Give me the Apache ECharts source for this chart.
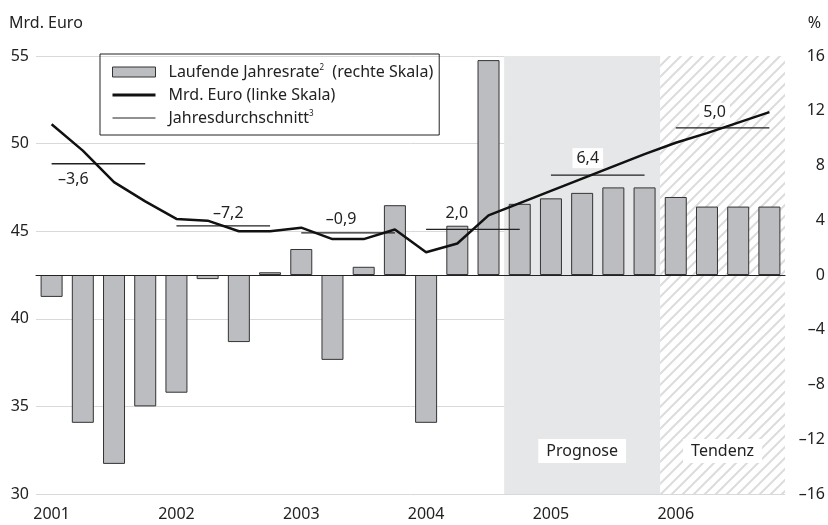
<!DOCTYPE html>
<html>
<head>
<meta charset="utf-8">
<title>Mrd. Euro</title>
<script src="https://cdn.jsdelivr.net/npm/echarts@6/dist/echarts.min.js"></script>
</head>
<body style="margin:0">
<div id="chart" style="width:828px;height:525px;"></div>
<script>
// Quartale 2001 bis 2006
var years = ['2001', '2002', '2003', '2004', '2005', '2006'];
var quarters = ['Q1', 'Q2', 'Q3', 'Q4'];
// Laufende Jahresrate in % (rechte Skala)
var rate = [-1.6, -10.8, -13.8, -9.6,
            -8.6, -0.3, -4.9, 0.2,
            1.9, -6.2, 0.6, 5.1,
            -10.8, 3.6, 15.7, 5.2,
            5.6, 6.0, 6.4, 6.4,
            5.7, 5.0, 5.0, 5.0];
// Mrd. Euro (linke Skala)
var euro = [51.1, 49.6, 47.8, 46.7,
            45.7, 45.6, 45.0, 45.0,
            45.2, 44.55, 44.55, 45.1,
            43.8, 44.3, 45.9, 46.6,
            47.3, 48.0, 48.7, 49.4,
            50.05, 50.6, 51.2, 51.8];
// Jahresdurchschnitt: Niveau (linke Skala) und Beschriftung
var avgLevel = [48.85, 45.3, 44.9, 45.1, 48.2, 50.9];
var avgLabel = ['–3,6', '–7,2', '–0,9', '2,0', '6,4', '5,0'];
// Prognose / Tendenz, in Quartalsschritten
var regions = [
  { name: 'Prognose', from: 15, to: 20 },
  { name: 'Tendenz', from: 20, to: 24 }
];
var leftTicks = { min: 30, max: 55, interval: 5 };
var rightTicks = { min: -16, max: 16, interval: 4 };

var FONT = 'Noto Sans';
var FS = 16;
var TXT = '#222';

var categories = [];
years.forEach(function (y) {
  quarters.forEach(function (q) { categories.push(y + ' ' + q); });
});

// Schraffur fuer den Tendenz-Bereich
function hatch() {
  var c = document.createElement('canvas');
  c.width = 11; c.height = 11;
  var ctx = c.getContext('2d');
  ctx.fillStyle = '#ffffff';
  ctx.fillRect(0, 0, 11, 11);
  ctx.strokeStyle = '#dcdcdc';
  ctx.lineWidth = 2;
  ctx.beginPath();
  ctx.moveTo(-2, 13); ctx.lineTo(13, -2);
  ctx.moveTo(-13, 13); ctx.lineTo(2, -2);
  ctx.moveTo(9, 13); ctx.lineTo(24, -2);
  ctx.stroke();
  return c;
}

// Beschriftungsversatz der Jahresdurchschnitte
var labelShift = [[-25, 16], [5, -13], [-7, -14], [-16, -16], [-10, -17], [-8, -15]];

var avgSeries = avgLevel.map(function (v, i) {
  var s = i * 4 + 0.5, e = i * 4 + 3.5;
  return {
    name: 'Jahresdurchschnitt',
    type: 'line',
    xAxisIndex: 1,
    yAxisIndex: 0,
    symbol: 'circle',
    symbolSize: 1,
    showSymbol: true,
    z: 3,
    lineStyle: { color: '#222', width: 1.3 },
    itemStyle: { color: 'rgba(0,0,0,0)' },
    data: [[s, v], {
      value: [(s + e) / 2, v],
      label: {
        show: true,
        formatter: avgLabel[i],
        position: 'inside',
        offset: labelShift[i],
        color: TXT,
        fontFamily: FONT,
        fontSize: FS,
        backgroundColor: '#fff',
        padding: [2, 4]
      }
    }, [e, v]]
  };
});

var chart = echarts.init(document.getElementById('chart'));
var option = {
  animation: false,
  textStyle: { fontFamily: FONT },
  title: [
    { text: 'Mrd. Euro', left: 4, top: 10, textStyle: { fontFamily: FONT, fontSize: FS, fontWeight: 'normal', color: TXT } },
    { text: '%', right: 2, top: 10, textStyle: { fontFamily: FONT, fontSize: FS, fontWeight: 'normal', color: TXT } }
  ],
  legend: {
    orient: 'vertical',
    left: 100,
    top: 54,
    padding: [10, 6, 9, 12],
    borderColor: '#222',
    borderWidth: 1,
    itemWidth: 43,
    itemHeight: 10,
    itemGap: 7,
    data: [
      { name: 'Laufende Jahresrate', icon: 'rect', itemStyle: { color: '#bcbdc0', borderColor: '#333', borderWidth: 1 } },
      { name: 'Mrd. Euro (linke Skala)', icon: 'path://M0,0H43V3H0Z', itemStyle: { color: '#111', borderWidth: 0 } },
      { name: 'Jahresdurchschnitt', icon: 'path://M0,0H43V1.2H0Z', itemStyle: { color: '#222', borderWidth: 0 } }
    ],
    formatter: function (name) {
      if (name === 'Laufende Jahresrate') return 'Laufende Jahresrate{sup|2}  (rechte Skala)';
      if (name === 'Jahresdurchschnitt') return 'Jahresdurchschnitt{sup|3}';
      return name;
    },
    textStyle: {
      fontFamily: FONT,
      fontSize: FS,
      color: TXT,
      lineHeight: 16,
      padding: [0, 0, 0, 8],
      rich: { sup: { fontSize: 8, verticalAlign: 'top', lineHeight: 8, fontFamily: FONT, color: TXT } }
    }
  },
  grid: { left: 36, right: 41, top: 56, bottom: 31, containLabel: false },
  xAxis: [{
    type: 'category',
    data: categories,
    boundaryGap: true,
    axisLine: { lineStyle: { color: '#222', width: 1 } },
    axisTick: { interval: 0, length: 7, lineStyle: { color: '#222' } },
    axisLabel: {
      interval: 3,
      margin: 12,
      color: TXT,
      fontFamily: FONT,
      fontSize: FS,
      formatter: function (v) { return v.split(' ')[0]; }
    },
    splitLine: { show: false }
  }, {
    type: 'value',
    min: 0,
    max: 24,
    show: false
  }],
  yAxis: [{
    type: 'value',
    min: leftTicks.min,
    max: leftTicks.max,
    interval: leftTicks.interval,
    axisLine: { show: false },
    axisTick: { show: false },
    axisLabel: { color: TXT, fontFamily: FONT, fontSize: FS, margin: 7 },
    splitLine: { lineStyle: { color: '#d9d9d9', width: 1 } }
  }, {
    type: 'value',
    min: rightTicks.min,
    max: rightTicks.max,
    interval: rightTicks.interval,
    axisLine: { show: false },
    axisTick: { show: false },
    splitLine: { show: false },
    axisLabel: {
      color: TXT, fontFamily: FONT, fontSize: FS, margin: 40, align: 'right',
      formatter: function (v) { return String(v).replace('-', '–'); }
    }
  }],
  series: [{
    name: 'Bereiche',
    type: 'line',
    xAxisIndex: 1,
    yAxisIndex: 0,
    data: [],
    z: -1,
    silent: true,
    markArea: {
      silent: true,
      data: regions.map(function (r, i) {
        return [{
          name: r.name,
          xAxis: r.from,
          itemStyle: i === 0 ? { color: '#e6e7e8' } : { color: { image: hatch(), repeat: 'repeat' } }
        }, { xAxis: r.to }];
      }),
      label: {
        show: true,
        position: 'insideBottom',
        distance: 31,
        color: TXT,
        fontFamily: FONT,
        fontSize: FS,
        backgroundColor: '#fff',
        padding: [4, 8]
      }
    }
  }, {
    name: 'Laufende Jahresrate',
    type: 'bar',
    yAxisIndex: 1,
    barWidth: 22,
    z: 2,
    itemStyle: { color: '#bcbdc0', borderColor: '#333', borderWidth: 1 },
    data: rate,
    markLine: {
      silent: true,
      symbol: ['none', 'none'],
      label: { show: false },
      lineStyle: { color: '#222', width: 1, type: 'solid' },
      data: [{ yAxis: 0 }]
    }
  }, {
    name: 'Mrd. Euro (linke Skala)',
    type: 'line',
    yAxisIndex: 0,
    symbol: 'none',
    z: 4,
    lineStyle: { color: '#111', width: 2.5 },
    itemStyle: { color: '#111' },
    data: euro
  }].concat(avgSeries)
};
chart.setOption(option);
</script>
</body>
</html>
